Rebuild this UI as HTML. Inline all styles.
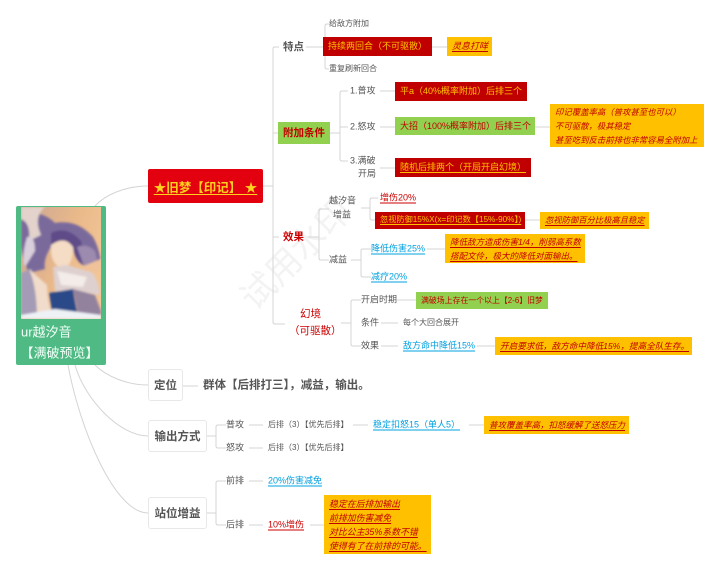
<!DOCTYPE html>
<html><head><meta charset="utf-8"><style>
html,body{margin:0;padding:0;background:#fff}
#p{position:relative;width:720px;height:571px;overflow:hidden;background:#fff;font-family:"Liberation Sans","Noto Sans CJK SC",sans-serif;color:#555;filter:blur(.3px)}
#p svg{position:absolute;left:0;top:0}
.t,.b{position:absolute;white-space:nowrap;line-height:1}
.t{transform:translateY(-50%)}
.s{font-size:8px;color:#555}.m{font-size:9px;color:#555}.l{font-size:12px;color:#555;font-weight:bold}
.red{color:#c00;font-weight:bold}
.b{box-sizing:border-box;display:flex;align-items:center;padding-left:5px;font-size:9px}
.r{background:#c00000;color:#ffc000}
.g{background:#92d050;color:#c00000}
.o{background:#ffc000;color:#c00000;font-style:italic}
.u{text-decoration:underline;text-underline-offset:2px}
.blue{color:#00a0e0;font-size:9px;text-decoration:underline;text-underline-offset:2px}
.w{position:absolute;box-sizing:border-box;background:#fff;border:1px solid #e8e8e8;border-radius:3px;font-size:11.5px;font-weight:bold;color:#555;display:flex;align-items:center;justify-content:center}
</style></head><body><div id="p">
<svg width="720" height="571" fill="none" stroke="#d4d4d4" stroke-width="1">
<text x="255" y="312" transform="rotate(-45 255 312)" font-size="35" fill="#f3f3f3" stroke="none" font-family="Liberation Sans,Noto Sans CJK SC,sans-serif">试用水印</text>
<path d="M95 206C105 195 125 186 148 186M95 365C105 375 125 385 148 385M75 365C85 400 120 436 148 436M68 365C80 430 115 513 148 513"/>
<path d="M263 186H273M279 47H275Q273 47 273 49V322Q273 324 275 324H285M273 133H278M273 237H279"/>
<path d="M306 47H323M329 24H327Q325 24 325 26V67Q325 69 327 69H329M432 47H447"/>
<path d="M330 133H340M348 91H342Q340 91 340 93V159Q340 161 342 161H348M340 127H348M380 91H395M380 127H395M380 168H395M535 127H550"/>
<path d="M308 237H319M329 209H321Q319 209 319 211V258Q319 260 321 260H329M361 208H370M378 198H372Q370 198 370 200V218Q370 220 372 220H375M525 220H540"/>
<path d="M351 260H361M371 249H363Q361 249 361 251V275Q361 277 363 277H371M427 249H445"/>
<path d="M341 323H351M361 300H353Q351 300 351 302V344Q351 346 353 346H361M397 300H416M381 323H398M381 346H398M477 346H495"/>
<path d="M183 386H198M207 436H216M226 425H218Q216 425 216 427V446Q216 448 218 448H226M249 425H263M249 448H263M353 425H368M469 425H484"/>
<path d="M207 513H216M226 481H218Q216 481 216 483V523Q216 525 218 525H226M249 481H263M249 525H263M310 525H324"/>
</svg>

<div style="position:absolute;left:16px;top:206px;width:90px;height:159px;background:#4fba84;border-radius:2px"></div>
<svg style="left:21px;top:207px" width="80" height="112" viewBox="0 0 80 112">
<defs><linearGradient id="bg" x1="0" y1="0" x2="1" y2="0.5"><stop offset="0" stop-color="#c9a595"/><stop offset=".6" stop-color="#eab98a"/><stop offset="1" stop-color="#f2c596"/></linearGradient><filter id="bl"><feGaussianBlur stdDeviation="1"/></filter></defs>
<rect width="80" height="112" fill="url(#bg)"/>
<g filter="url(#bl)">
<path d="M0 8Q20 2 34 16Q56 12 72 30Q80 44 80 62L66 66Q70 46 56 34Q40 24 30 40Q22 52 24 62L8 66Q0 50 0 36Z" fill="#7a6a9c"/>
<path d="M0 0H24Q12 10 20 28L8 34Q10 16 0 12Z" fill="#e3d3cc"/>
<path d="M6 30Q14 28 14 44L4 60Q0 50 6 30Z" fill="#d9cedb"/>
<path d="M30 34Q42 26 52 40Q52 56 44 62Q32 60 30 46Z" fill="#f5dcc4"/>
<path d="M30 26Q46 18 60 34L66 60Q54 56 52 40Q44 28 30 38Z" fill="#5e4c88"/>
<path d="M56 40Q66 36 74 44L78 60L64 62Z" fill="#9c8aaf"/>
<path d="M60 60Q70 56 80 52V62L62 72Z" fill="#efc299"/>
<path d="M0 66L10 62Q18 80 22 112H0Z" fill="#a49bb6"/>
<path d="M8 62L26 78Q26 94 32 112H16Q16 80 8 62Z" fill="#f1dccb"/>
<path d="M32 60L46 58L72 66Q80 80 78 88L58 84L34 84Z" fill="#ded0cf"/>
<path d="M36 64L66 70L62 80L40 78Z" fill="#f3ece8"/>
<path d="M28 86L52 82Q54 98 58 112H32Z" fill="#2a4a88"/>
<path d="M52 82L74 88L80 104V112H58Z" fill="#93829e"/>
<path d="M0 108L34 102L80 108V112H0Z" fill="#eef2f6"/>
</g></svg>
<div class="t" style="left:21px;top:332px;font-size:13px;color:#f2fff8">ur越汐音</div>
<div class="t" style="left:20.5px;top:353px;font-size:13px;color:#f2fff8">【满破预览】</div>

<div style="position:absolute;left:148px;top:169px;width:115px;height:34px;background:#e3000f;border-radius:2px;display:flex;align-items:center;justify-content:center;font-size:12.5px;font-weight:bold;color:#ffd21f;white-space:nowrap"><span class="u">★旧梦【印记】 ★</span></div>

<div class="t l" style="left:283px;top:47px;font-size:10.5px">特点</div>
<div class="t s" style="left:329px;top:24px">给敌方附加</div>
<div class="b r" style="left:323px;top:37px;width:109px;height:19px">持续两回合（不可驱散）</div>
<div class="b o" style="left:447px;top:37px;width:45px;height:19px"><span class="u">灵息打咩</span></div>
<div class="t s" style="left:329px;top:69px">重复刷新回合</div>

<div class="b g" style="left:278px;top:122px;width:52px;height:22px;font-size:10.5px;padding-left:5px;font-weight:bold">附加条件</div>
<div class="t m" style="left:350px;top:91px">1.普攻</div>
<div class="b r" style="left:395px;top:82px;width:132px;height:19px">平a（40%概率附加）后排三个</div>
<div class="t m" style="left:350px;top:127px">2.怒攻</div>
<div class="b g" style="left:395px;top:117px;width:140px;height:18px">大招（100%概率附加）后排三个</div>
<div class="t m" style="left:350px;top:161px">3.满破</div>
<div class="t m" style="left:358px;top:174px">开局</div>
<div class="b r" style="left:395px;top:158px;width:136px;height:19px"><span class="u">随机后排两个（开局开启幻境）</span></div>
<div class="b o" style="left:550px;top:104px;width:154px;height:43px;font-size:8.4px;line-height:14px;white-space:nowrap;display:block;padding-top:1px">印记覆盖率高（普攻甚至也可以）<br>不可驱散，极其稳定<br>甚至吃到反击前排也非常容易全附加上</div>

<div class="t red" style="left:283px;top:237px;font-size:10.5px">效果</div>
<div class="t m" style="left:329px;top:201px">越汐音</div>
<div class="t m" style="left:333px;top:215px">增益</div>
<div class="t red u" style="left:380px;top:198px;font-size:9px;font-weight:normal">增伤20%</div>
<div class="b r" style="left:375px;top:212px;width:150px;height:17px;font-size:8.2px"><span class="u">忽视防御15%X(x=印记数【15%-90%】)</span></div>
<div class="b o" style="left:540px;top:212px;width:109px;height:17px;font-size:8.3px"><span class="u">忽视防御百分比极高且稳定</span></div>
<div class="t m" style="left:329px;top:260px">减益</div>
<div class="t blue" style="left:371px;top:249px">降低伤害25%</div>
<div class="b o" style="left:445px;top:234px;width:140px;height:29px;font-size:8.5px;line-height:14px;white-space:nowrap;display:block;padding-top:1px"><span class="u">降低敌方造成伤害1/4，削弱高系数</span><br><span class="u">搭配文伶，极大的降低对面输出。</span></div>
<div class="t blue" style="left:371px;top:277px">减疗20%</div>

<div class="t red" style="left:300px;top:314px;font-size:10.5px;font-weight:normal">幻境</div>
<div class="t red" style="left:289px;top:331px;font-size:10.5px;font-weight:normal">（可驱散）</div>
<div class="t m" style="left:361px;top:300px">开启时期</div>
<div class="b g" style="left:416px;top:292px;width:132px;height:17px;font-size:7.9px">满破场上存在一个以上【2-6】旧梦</div>
<div class="t m" style="left:361px;top:323px">条件</div>
<div class="t s" style="left:403px;top:323px">每个大回合展开</div>
<div class="t m" style="left:361px;top:346px">效果</div>
<div class="t blue" style="left:403px;top:346px">敌方命中降低15%</div>
<div class="b o" style="left:495px;top:337px;width:197px;height:18px;font-size:8.6px"><span class="u">开启要求低，敌方命中降低15%，提高全队生存。</span></div>

<div class="w" style="left:148px;top:369px;width:35px;height:32px">定位</div>
<div class="t" style="left:203px;top:386px;font-size:11.5px;font-weight:bold;color:#555">群体【后排打三】，减益，输出。</div>

<div class="w" style="left:148px;top:420px;width:59px;height:32px">输出方式</div>
<div class="t m" style="left:226px;top:425px">普攻</div>
<div class="t s" style="left:268px;top:425px">后排（3）【优先后排】</div>
<div class="t m" style="left:226px;top:448px">怒攻</div>
<div class="t s" style="left:268px;top:448px">后排（3）【优先后排】</div>
<div class="t blue" style="left:373px;top:425px">稳定扣怒15（单人5）</div>
<div class="b o" style="left:484px;top:416px;width:145px;height:18px;font-size:8.5px"><span class="u">普攻覆盖率高，扣怒缓解了送怒压力</span></div>

<div class="w" style="left:148px;top:497px;width:59px;height:32px">站位增益</div>
<div class="t m" style="left:226px;top:481px">前排</div>
<div class="t blue" style="left:268px;top:481px">20%伤害减免</div>
<div class="t m" style="left:226px;top:525px">后排</div>
<div class="t red u" style="left:268px;top:525px;font-size:9px;font-weight:normal">10%增伤</div>
<div class="b o" style="left:324px;top:495px;width:107px;height:59px;font-size:8.9px;line-height:14px;white-space:nowrap;display:block;padding-top:2px"><span class="u">稳定在后排加输出</span><br><span class="u">前排加伤害减免</span><br><span class="u">对比公主35%系数不错</span><br><span class="u">使得有了在前排的可能。</span></div>
</div></body></html>
